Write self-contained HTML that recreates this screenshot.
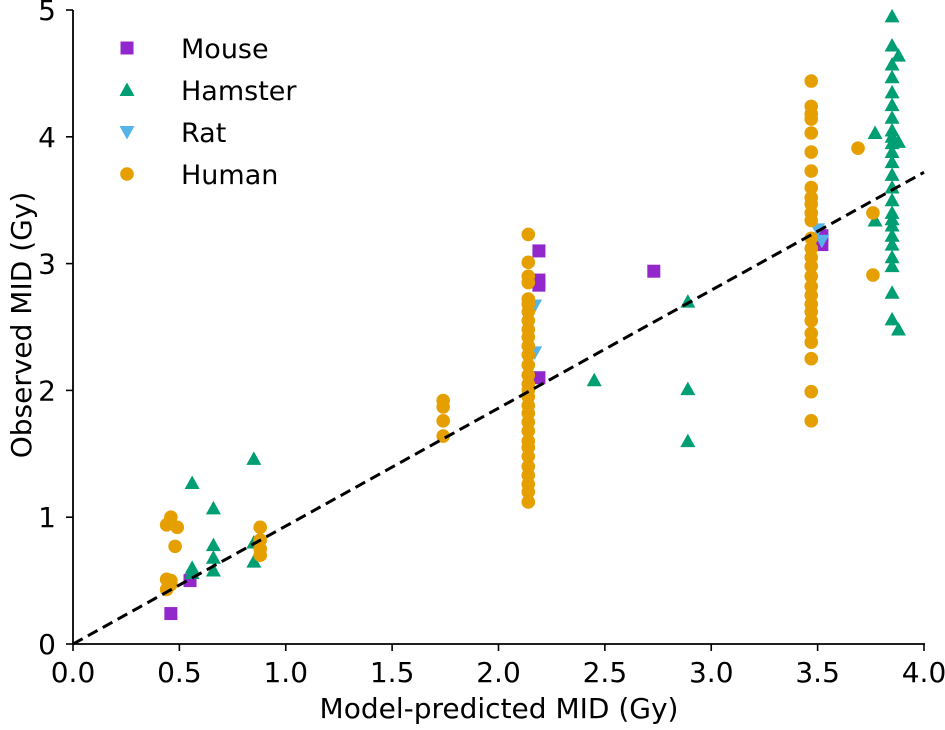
<!DOCTYPE html>
<html><head><meta charset="utf-8"><style>
body{margin:0;background:#fff}
svg text{font-family:"DejaVu Sans","Liberation Sans",sans-serif;fill:#000}
</style></head><body>
<svg id="chart" width="945" height="725" xmlns="http://www.w3.org/2000/svg"></svg>
<script>
const xTicks=[0,0.5,1,1.5,2,2.5,3,3.5,4];
const xTickLabels=["0.0","0.5","1.0","1.5","2.0","2.5","3.0","3.5","4.0"];
const yTicks=[0,1,2,3,4,5];
const yTickLabels=["0","1","2","3","4","5"];
const mouseX=[0.46,0.55,2.19,2.19,2.19,2.19,2.73,3.52,3.52];
const mouseY=[0.24,0.50,3.10,2.87,2.83,2.10,2.94,3.15,3.22];
const ratX=[2.17,2.17,3.50,3.52];
const ratY=[2.67,2.30,3.27,3.18];
const hamsterX=[0.56,0.56,0.56,0.66,0.66,0.66,0.66,0.85,0.85,0.85,2.45,2.89,2.89,2.89,3.77,3.77,3.88,3.88,3.88,
3.85,3.85,3.85,3.85,3.85,3.85,3.85,3.85,3.85,3.85,3.85,3.85,3.85,3.85,3.85,3.85,3.85,3.85,3.85,3.85,3.85,3.85,3.85,3.85];
const hamsterY=[1.27,0.60,0.56,1.07,0.78,0.68,0.58,1.46,0.80,0.65,2.08,2.70,2.01,1.60,4.03,3.34,4.64,3.96,2.48,
4.95,4.72,4.57,4.47,4.35,4.25,4.15,4.05,4.00,3.95,3.88,3.80,3.70,3.60,3.50,3.40,3.35,3.30,3.22,3.15,3.05,2.98,2.77,2.56];
const humanX=[0.44,0.46,0.49,0.48,0.44,0.46,0.44,0.46,0.88,0.88,0.88,0.88,1.74,1.74,1.74,1.74,
2.14,2.14,2.14,2.14,2.14,2.14,2.14,2.14,2.14,2.14,2.14,2.14,2.14,2.14,2.14,2.14,2.14,2.14,2.14,2.14,2.14,2.14,2.14,2.14,2.14,2.14,2.14,2.14,2.14,
3.47,3.47,3.47,3.47,3.47,3.47,3.47,3.47,3.47,3.47,3.47,3.47,3.47,3.47,3.47,3.47,3.47,3.47,3.47,3.47,3.47,3.47,3.47,3.47,3.47,3.47,3.47,
3.69,3.76,3.76];
const humanY=[0.94,1.00,0.92,0.77,0.51,0.50,0.43,0.47,0.92,0.82,0.75,0.70,1.92,1.87,1.76,1.64,
3.23,3.01,2.90,2.85,2.72,2.68,2.62,2.55,2.48,2.42,2.35,2.28,2.20,2.12,2.05,2.00,1.95,1.88,1.82,1.75,1.68,1.60,1.55,1.48,1.40,1.33,1.26,1.20,1.12,
4.44,4.24,4.18,4.14,4.03,3.88,3.73,3.60,3.52,3.47,3.40,3.34,3.20,3.12,3.05,2.98,2.90,2.82,2.75,2.68,2.62,2.55,2.45,2.38,2.25,1.99,1.76,
3.91,3.40,2.91];
const fitX=[0,4];
const fitY=[0,3.72];

const NS="http://www.w3.org/2000/svg";
const svg=document.getElementById('chart');
const X0=73,Y0=644,XS=212.75,YS=126.8;
const sx=v=>X0+v*XS, sy=v=>Y0-v*YS;
function mk(tag,attrs,parent){const e=document.createElementNS(NS,tag);for(const k in attrs)e.setAttribute(k,attrs[k]);(parent||svg).appendChild(e);return e;}

const C={mouse:"#9228cc",hamster:"#009e73",rat:"#56b4e9",human:"#e69f00"};
function marker(kind,x,y,g){
  let e;
  if(kind==='mouse') e=mk('rect',{x:x-6.5,y:y-6.5,width:13,height:13,fill:C.mouse},g);
  else if(kind==='hamster') e=mk('polygon',{points:`${x},${y-7.5} ${x+7.5},${y+6} ${x-7.5},${y+6}`,fill:C.hamster},g);
  else if(kind==='rat') e=mk('polygon',{points:`${x},${y+7.5} ${x+7.5},${y-6} ${x-7.5},${y-6}`,fill:C.rat},g);
  else e=mk('circle',{cx:x,cy:y,r:6.8,fill:C.human},g);
  return e;
}
const series=[['mouse',mouseX,mouseY],['hamster',hamsterX,hamsterY],['rat',ratX,ratY],['human',humanX,humanY]];
for(const [k,xs,ys] of series){
  const g=mk('g',{});
  
  
  xs.forEach((v,i)=>{const m=marker(k,sx(v),sy(ys[i]),g);
    
    });
}
const fl=mk('line',{x1:sx(fitX[0]),y1:sy(fitY[0]),x2:sx(fitX[1]),y2:sy(fitY[1]),stroke:'#000','stroke-width':3,'stroke-dasharray':'11,6'});



const ax=mk('g',{});


mk('line',{x1:X0,y1:Y0,x2:sx(4)+1,y2:Y0,stroke:'#000','stroke-width':1.8},ax);
mk('line',{x1:X0,y1:Y0,x2:X0,y2:sy(5),stroke:'#000','stroke-width':1.8},ax);
xTicks.forEach((v,i)=>{
  mk('line',{x1:sx(v),y1:Y0,x2:sx(v),y2:Y0+7,stroke:'#000','stroke-width':1.6},ax);
  const t=mk('text',{x:sx(v),y:Y0+38,'font-size':28,'text-anchor':'middle'},ax);t.textContent=xTickLabels[i];
  
  
});
yTicks.forEach((v,i)=>{
  mk('line',{x1:X0-7,y1:sy(v),x2:X0,y2:sy(v),stroke:'#000','stroke-width':1.6},ax);
  const t=mk('text',{x:X0-17,y:sy(v)+10,'font-size':28,'text-anchor':'end'},ax);t.textContent=yTickLabels[i];
  
  
});
const xt=mk('text',{x:499,y:718,'font-size':28,'text-anchor':'middle'});xt.textContent='Model-predicted MID (Gy)';


const yt=mk('text',{x:0,y:0,'font-size':28,'text-anchor':'middle',transform:'translate(31,325) rotate(-90)'});yt.textContent='Observed MID (Gy)';



const lg=mk('g',{});


const names=[['mouse','Mouse',48],['hamster','Hamster',90],['rat','Rat',132],['human','Human',174]];
for(const [k,n,y] of names){
  const ge=mk('g',{},lg);
  
  
  marker(k,127,y,ge);
  const t=mk('text',{x:181,y:y+10,'font-size':27},ge);t.textContent=n;
}
</script>
</body></html>
